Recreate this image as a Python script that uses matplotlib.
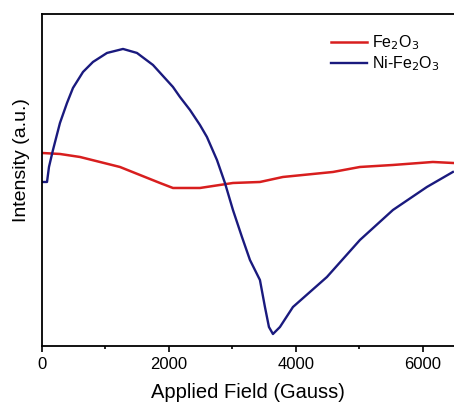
import matplotlib.pyplot as plt
from matplotlib.ticker import MultipleLocator

plt.rcParams['font.family'] = ['Liberation Sans', 'DejaVu Sans']

# Ni-Fe2O3 EPR curve (field in Gauss, intensity in arbitrary units)
ni_field = [0, 79, 110, 173, 283, 394, 488, 646, 803, 1024, 1276, 1496,
            1748, 2063, 2173, 2331, 2488, 2598, 2756, 2882, 3008, 3150,
            3276, 3433, 3512, 3575, 3638, 3748, 3953, 4488, 5008, 5528,
            6063, 6472]
ni_int = [164, 164, 179, 196, 223, 243, 258, 274, 284, 293, 297, 293,
          281, 259, 249, 236, 221, 209, 186, 163, 136, 109,
          86, 66, 39, 19, 12, 19, 39, 69, 106, 136,
          159, 174]

# Fe2O3 EPR curve
fe_field = [0, 283, 598, 913, 1228, 1543, 1858, 2063, 2488, 3008, 3433,
            3795, 4583, 5008, 5528, 6157, 6472]
fe_int = [193, 192, 189, 184, 179, 171, 163, 158, 158, 163, 164,
          169, 174, 179, 181, 184, 183]

fig = plt.figure(figsize=(4.54, 4.03), dpi=100)
ax = fig.add_axes([0.0925, 0.1414, 0.9075, 0.824])

ax.plot(fe_field, fe_int, color='#d81e1e', lw=1.8, label='Fe$_2$O$_3$')
ax.plot(ni_field, ni_int, color='#1a1a7e', lw=1.7, label='Ni-Fe$_2$O$_3$')

ax.set_xlim(0, 6490)
ax.set_ylim(0, 332)
ax.xaxis.set_major_locator(MultipleLocator(2000))
ax.xaxis.set_minor_locator(MultipleLocator(1000))
ax.tick_params(axis='x', which='major', length=4, width=1.2, labelsize=12, pad=4)
ax.tick_params(axis='x', which='minor', length=2.5, width=1.2)
ax.set_yticks([])
for s in ax.spines.values():
    s.set_linewidth(1.3)
ax.spines['right'].set_visible(False)

ax.set_xlabel('Applied Field (Gauss)', fontsize=14.5, labelpad=8)
ax.set_ylabel('Intensity (a.u.)', fontsize=14)
ax.yaxis.set_label_coords(-0.03, 0.56)

ax.legend(loc='upper right', frameon=False, fontsize=11.5, handlelength=2.3,
          handletextpad=0.3, labelspacing=0.15, bbox_to_anchor=(1.0, 0.985))

fig.savefig('out.png', dpi=100)
